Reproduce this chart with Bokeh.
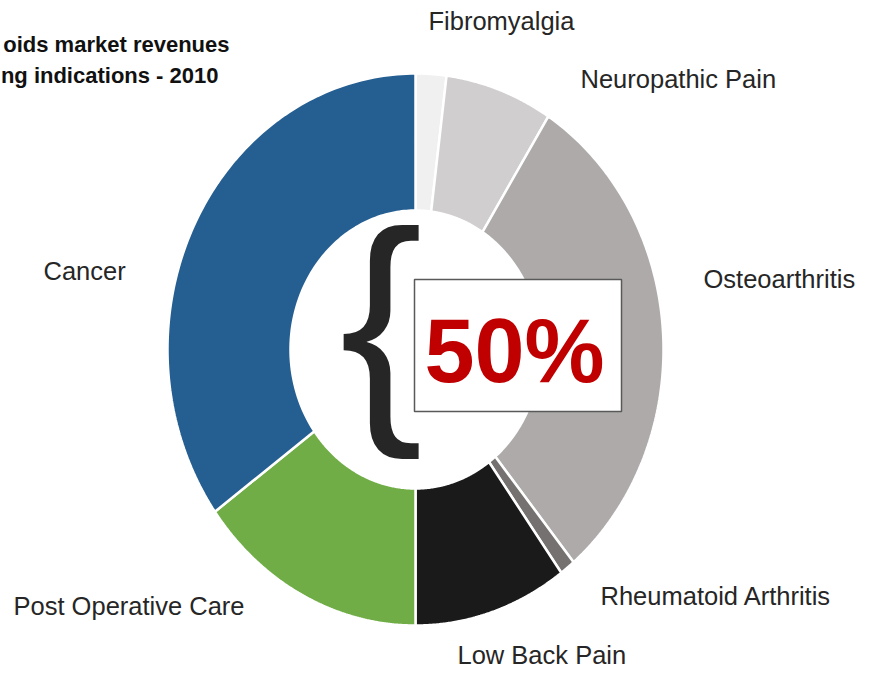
import numpy as np
from bokeh.plotting import figure
from bokeh.models import Range1d, Label, BoxAnnotation, ColumnDataSource
from bokeh.embed import file_html
from bokeh.resources import INLINE

# ---- data ----
categories = ["Fibromyalgia", "Neuropathic Pain", "Osteoarthritis",
              "Rheumatoid Arthritis", "Low Back Pain", "Post Operative Care", "Cancer"]
shares = [2, 7, 30, 1, 10, 15, 35]
colors = ["#F0F0F0", "#D0CECE", "#AEAAAA", "#767171", "#1A1A1A", "#70AD47", "#255E91"]
title_lines = ["oids market revenues", "ng indications - 2010"]
highlight_text = "50%"

# ---- layout (picture pixel coordinates) ----
CX, CY = 415, 349
RX, RY = 248, 276
IRX, IRY = 125, 139
label_pos = {
    "Fibromyalgia": (428, 30),
    "Neuropathic Pain": (580, 88),
    "Osteoarthritis": (703, 288),
    "Rheumatoid Arthritis": (600, 605),
    "Low Back Pain": (457, 664),
    "Post Operative Care": (13, 615),
    "Cancer": (43, 280),
}
FONT = "Liberation Sans"
BASE_SHIFT = 0.36  # compensation of the rendered baseline offset (in em)

p = figure(width=858, height=672, output_backend="svg", toolbar_location=None,
           x_range=Range1d(0, 858), y_range=Range1d(672, 0),
           x_axis_location=None, y_axis_location=None, min_border=0)
p.grid.visible = False
p.outline_line_color = None
p.background_fill_color = "white"
p.border_fill_color = "white"

total = float(sum(shares))
fr = np.array(shares, dtype=float) / total
ends = np.cumsum(fr) * 2 * np.pi
starts = ends - fr * 2 * np.pi

xs, ys = [], []
for a0, a1 in zip(starts, ends):
    t = np.linspace(a0, a1, 120)
    ox = CX + RX * np.sin(t)
    oy = CY - RY * np.cos(t)
    ix = CX + IRX * np.sin(t[::-1])
    iy = CY - IRY * np.cos(t[::-1])
    xs.append(np.concatenate([ox, ix]).tolist())
    ys.append(np.concatenate([oy, iy]).tolist())

src = ColumnDataSource(dict(xs=xs, ys=ys, color=colors, name=categories))
p.patches("xs", "ys", source=src, fill_color="color", line_color="white", line_width=2.5)


def add_text(x, y_base, text, size, align="left", bold=False, color="#262626"):
    p.add_layout(Label(x=x, y=y_base - BASE_SHIFT * size, text=text, text_font=FONT,
                       text_font_size=f"{size}px",
                       text_font_style="bold" if bold else "normal",
                       text_color=color, text_baseline="alphabetic", text_align=align))


for cat in categories:
    x, y = label_pos[cat]
    add_text(x, y, cat, 25.5)

# title (cut off at the left edge as in the reference)
for line, (x, y) in zip(title_lines, [(229, 52), (218, 83)]):
    add_text(x, y, line, 22, align="right", bold=True, color="#111111")

# brace
add_text(339, 410, "{", 250)

# highlight box
p.add_layout(BoxAnnotation(left=414, right=621, top=279, bottom=411,
                           fill_color="white", fill_alpha=1.0,
                           line_color="#595959", line_alpha=1.0, line_width=1.5))
add_text(514, 383, highlight_text, 90, align="center", bold=True, color="#C00000")

open("out.html", "w").write(file_html(p, INLINE))
